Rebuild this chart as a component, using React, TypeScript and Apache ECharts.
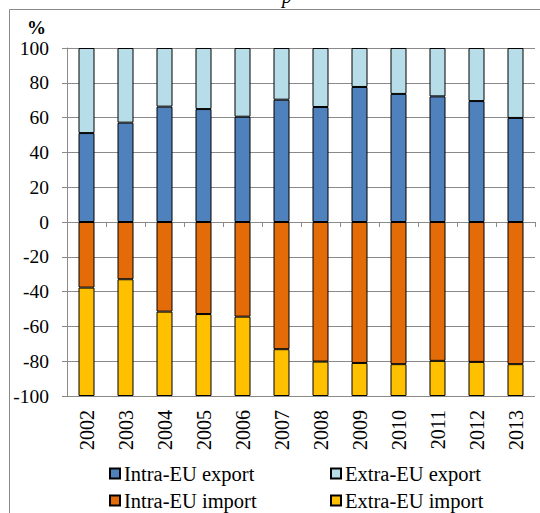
import React, { useEffect, useRef } from "react";
import * as echarts from "echarts";

const years = ["2002","2003","2004","2005","2006","2007","2008","2009","2010","2011","2012","2013"];
const intraExport = [51.1, 57.1, 66.3, 64.9, 60.5, 70.3, 66.1, 77.6, 73.6, 72.2, 69.5, 59.8];
const extraExport = intraExport.map((v) => +(100 - v).toFixed(1));
const intraImport = [-37.7, -32.9, -51.5, -52.9, -54.4, -73.1, -80.2, -81.0, -81.7, -79.8, -80.4, -81.7];
const extraImport = intraImport.map((v) => +(-100 - v).toFixed(1));
const seriesNames = ["Intra-EU export", "Extra-EU export", "Intra-EU import", "Extra-EU import"];
const seriesColors = ["#4F81BD", "#B7DEE8", "#E36C09", "#FFC000"];

const FONT = "Times New Roman, Liberation Serif, DejaVu Serif, serif";
const GRID_COLOR = "#8a8a8a";

export default function App() {
  const ref = useRef<HTMLDivElement>(null);
  useEffect(() => {
    if (!ref.current) return;
    const chart = echarts.init(ref.current, null, { renderer: "svg" });
    const values = [intraExport, extraExport, intraImport, extraImport];
    const legendPos = [
      { left: 109, top: 463 },
      { left: 330, top: 463 },
      { left: 109, top: 490 },
      { left: 330, top: 490 },
    ];
    chart.setOption({
      animation: false,
      backgroundColor: "#fff",
      textStyle: { fontFamily: FONT },
      grid: { left: 67, right: 5, top: 48, bottom: 117, containLabel: false },
      legend: seriesNames.map((n, i) => ({
        data: [n],
        left: legendPos[i].left,
        top: legendPos[i].top,
        icon: "rect",
        itemWidth: 10,
        itemHeight: 10,
        itemGap: 0,
        padding: 0,
        textStyle: { fontFamily: FONT, fontSize: 20.5, color: "#000", padding: [0, 0, 0, -1] },
      })),
      xAxis: [
        {
          type: "category",
          data: years,
          axisLine: { onZero: true, lineStyle: { color: GRID_COLOR, width: 1 } },
          axisTick: { show: true, length: 5, lineStyle: { color: GRID_COLOR } },
          axisLabel: { show: false },
          splitLine: { show: false },
        },
        {
          type: "category",
          data: years,
          position: "bottom",
          axisLine: { show: false },
          axisTick: { show: false },
          axisLabel: {
            rotate: 90,
            margin: 14,
            fontFamily: FONT,
            fontSize: 20,
            color: "#000",
          },
        },
      ],
      yAxis: {
        type: "value",
        min: -100,
        max: 100,
        interval: 20,
        axisLine: { show: true, lineStyle: { color: GRID_COLOR } },
        axisTick: { show: true, length: 5, lineStyle: { color: GRID_COLOR } },
        axisLabel: { margin: 18, fontFamily: FONT, fontSize: 19.5, color: "#000" },
        splitLine: { lineStyle: { color: GRID_COLOR, width: 1 } },
      },
      series: seriesNames.map((n, i) => ({
        name: n,
        type: "bar",
        stack: "total",
        xAxisIndex: 0,
        barWidth: 16,
        data: values[i],
        itemStyle: { color: seriesColors[i], borderColor: "#000", borderWidth: 1 },
      })),
      graphic: [
        {
          type: "rect",
          shape: { x: 9.5, y: 9.5, width: 540, height: 520 },
          style: { fill: "none", stroke: GRID_COLOR, lineWidth: 1 },
          silent: true,
          z: -1,
        },
        {
          type: "text",
          left: 27,
          top: 18,
          style: { text: "%", fontFamily: FONT, fontWeight: "bold", fontSize: 19, fill: "#000" },
        },
        {
          type: "text",
          x: 282,
          y: 6,
          style: {
            text: "p",
            fontFamily: FONT,
            fontStyle: "italic",
            fontSize: 20,
            fill: "#000",
            verticalAlign: "bottom",
          },
        },
      ],
    });
    return () => chart.dispose();
  }, []);
  return (
    <div
      ref={ref}
      style={{ position: "fixed", left: 0, top: 0, width: 540, height: 513 }}
    />
  );
}
